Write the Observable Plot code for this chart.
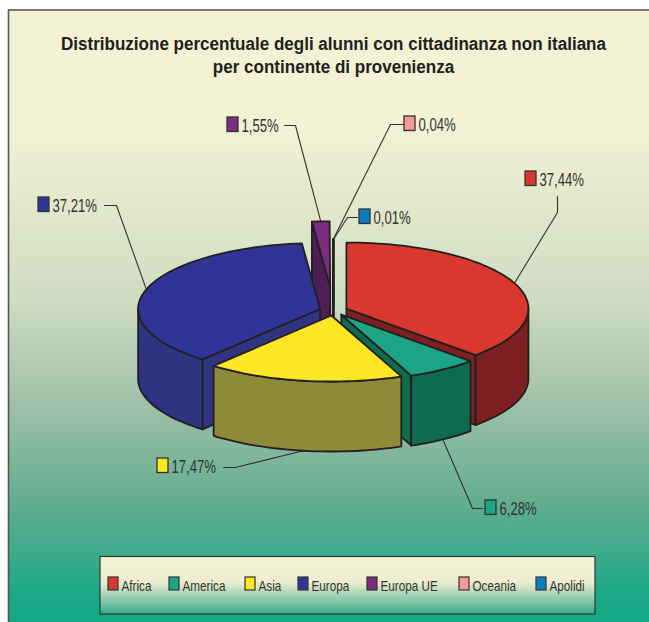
<!DOCTYPE html>
<html><head><meta charset="utf-8">
<script src="https://cdn.jsdelivr.net/npm/d3@7"></script>
<script src="https://cdn.jsdelivr.net/npm/@observablehq/plot@0.6"></script>
<style>html,body{margin:0;padding:0;background:#fff;overflow:hidden}svg{display:block}</style>
</head><body><div id="chart"></div>
<script>
const categories = ["Africa","America","Asia","Europa","Europa UE","Oceania","Apolidi"];
const percentages = [37.44,6.28,17.47,37.21,1.55,0.04,0.01];
const percentLabels = ["37,44%","6,28%","17,47%","37,21%","1,55%","0,04%","0,01%"];
const titleLines = ["Distribuzione percentuale degli alunni con cittadinanza non italiana","per continente di provenienza"];
const topColors = ["#d8382e","#1ba585","#fde725","#2f3596","#7d2c80","#f49a9a","#0a7cc2"];
const sideColors = ["#7d2022","#0d6c50","#8e8b38","#2f3382","#4c1f55","#1c1c1c","#1c1c1c"];

// layout of the drawing (px)
const W = 649, H = 622;
const pie = {cx:333, cy:310, rx:182, ry:66, depth:70};
const explode = [14,14,14,14,64,14,14];
const paintOrder = [4,5,6,0,3,1,2];
const fontName = "'Liberation Sans',sans-serif";
// elbow and end of each leader; swatch left/top of each data label
const leaderElbow = [[557,212],[472,508],[235,467],[116,205],[295,125],[390,124],[347,217]];
const leaderEnd   = [[557,196],[482,508],[223,467],[104,205],[284,125],[403,124],[357,217]];
const swatchPos   = [[525,171],[485,500],[157,458],[38,197],[227,117],[404,116],[359,209]];
const legendLeft  = [108,169,245,298,367,459,536];

const rad = d => d*Math.PI/180;
const starts = d3.cumsum([0,...percentages]).map(p => p*3.6);
const slices = categories.map((name,i) => {
  const a0 = starts[i], a1 = starts[i+1], mid = (a0+a1)/2;
  const ax = pie.cx + explode[i]*Math.sin(rad(mid));
  const ay = pie.cy - explode[i]*Math.cos(rad(mid))*pie.ry/pie.rx;
  return {name,i,a0,a1,mid,ax,ay};
});
const rim = (s,a,drop=0) => ({x:s.ax+pie.rx*Math.sin(rad(a)), y:s.ay-pie.ry*Math.cos(rad(a))+drop});
const arc = (s,a,b,drop=0) => {
  const n = Math.max(2,Math.ceil(Math.abs(b-a)/2));
  return d3.range(n+1).map(k => rim(s,a+(b-a)*k/n,drop));
};
const apex = (s,drop=0) => ({x:s.ax,y:s.ay+drop});
const closed = pts => [...pts,pts[0]];

function sliceFaces(s){
  const faces = [], side = sideColors[s.i], d = pie.depth;
  if (Math.sin(rad(s.a0)) < 0)
    faces.push({pts:closed([apex(s),rim(s,s.a0),rim(s,s.a0,d),apex(s,d)]),fill:side});
  if (Math.sin(rad(s.a1)) > 0)
    faces.push({pts:closed([apex(s),rim(s,s.a1),rim(s,s.a1,d),apex(s,d)]),fill:side});
  const w0 = Math.max(s.a0,90), w1 = Math.min(s.a1,270);
  if (w1 > w0)
    faces.push({pts:closed([...arc(s,w0,w1),...arc(s,w1,w0,d)]),fill:side});
  faces.push({pts:closed([apex(s),...arc(s,s.a0,s.a1)]),fill:topColors[s.i]});
  return faces;
}
const faceMarks = paintOrder.flatMap(i => sliceFaces(slices[i])).map(f =>
  Plot.line(f.pts,{x:"x",y:"y",fill:f.fill,stroke:"#231f20",strokeWidth:1.8,strokeLinejoin:"round"}));

const leaderMarks = slices.map((s,i) => {
  const frontWall = s.mid>90 && s.mid<270;
  const p = rim(s,s.mid,frontWall?pie.depth:0);
  return Plot.line([p,{x:leaderElbow[i][0],y:leaderElbow[i][1]},{x:leaderEnd[i][0],y:leaderEnd[i][1]}],
    {x:"x",y:"y",stroke:"#333",strokeWidth:1.1});
});

const swatchRows = slices.map((s,i)=>({x1:swatchPos[i][0],x2:swatchPos[i][0]+11,y1:swatchPos[i][1],y2:swatchPos[i][1]+14.5,fill:topColors[i],label:percentLabels[i]}));
const legendRows = slices.map((s,i)=>({x1:legendLeft[i],x2:legendLeft[i]+10,y1:577,y2:590,fill:topColors[i],name:s.name,tx:legendLeft[i]+13}));

// horizontal condensing of each text family (the source uses a narrow face)
const condense = {title:0.946, label:0.75, legend:0.78};
const narrow = k => ({className:"t-"+k});

const chart = Plot.plot({
  width:W,height:H,margin:0,
  x:{domain:[0,W],range:[0,W],axis:null},
  y:{domain:[0,H],range:[0,H],axis:null},
  style:{background:"#fff",fontFamily:fontName},
  marks:[
    () => {
      const ns="http://www.w3.org/2000/svg";
      const defs=document.createElementNS(ns,"defs");
      defs.innerHTML=`<linearGradient id="bgGrad" gradientUnits="userSpaceOnUse" x1="0" x2="0" y1="0" y2="${H}">
        <stop offset="0.2" stop-color="#f3f2d4"/><stop offset="0.48" stop-color="#cfdcc2"/>
        <stop offset="0.65" stop-color="#9fc0a8"/><stop offset="0.81" stop-color="#62ad90"/>
        <stop offset="0.96" stop-color="#1aa886"/><stop offset="1" stop-color="#14a885"/></linearGradient>
        <linearGradient id="legGrad" x1="0" x2="0" y1="0" y2="1">
        <stop offset="0" stop-color="#f3f2d4"/><stop offset="0.45" stop-color="#ecedd0"/>
        <stop offset="1" stop-color="#37ac8c"/></linearGradient>`;
      return defs;
    },
    Plot.rect([{x1:8.5,x2:W+4,y1:10,y2:H+4}],{x1:"x1",x2:"x2",y1:"y1",y2:"y2",fill:"url(#bgGrad)",stroke:"#555",strokeWidth:1.6}),
    Plot.text(titleLines,{x:()=>333,y:(d,i)=>43.5+i*23.5,text:d=>d,fontSize:18,fontWeight:"bold",fill:"#231f20",textAnchor:"middle",...narrow("title")}),
    ...leaderMarks,
    ...faceMarks,
    Plot.rect(swatchRows,{x1:"x1",x2:"x2",y1:"y1",y2:"y2",fill:"fill",stroke:"#333",strokeWidth:1.3}),
    Plot.text(swatchRows,{x:d=>d.x2+3,y:d=>d.y1+8.5,text:"label",fontSize:17.5,fill:"#333",textAnchor:"start",...narrow("label")}),
    Plot.rect([{x1:100,x2:595,y1:556.5,y2:614}],{x1:"x1",x2:"x2",y1:"y1",y2:"y2",fill:"url(#legGrad)",stroke:"#2a3a36",strokeWidth:1.2}),
    Plot.rect(legendRows,{x1:"x1",x2:"x2",y1:"y1",y2:"y2",fill:"fill",stroke:"#333",strokeWidth:1.2}),
    Plot.text(legendRows,{x:"tx",y:()=>586,text:"name",fontSize:15,fill:"#333",textAnchor:"start",...narrow("legend")})
  ]
});
document.getElementById("chart").append(chart);
for (const k of Object.keys(condense)) {
  chart.querySelectorAll(".t-"+k+" text").forEach(t => {
    t.setAttribute("lengthAdjust","spacingAndGlyphs");
    t.setAttribute("textLength",(t.getComputedTextLength()*condense[k]).toFixed(1));
  });
}
</script></body></html>
